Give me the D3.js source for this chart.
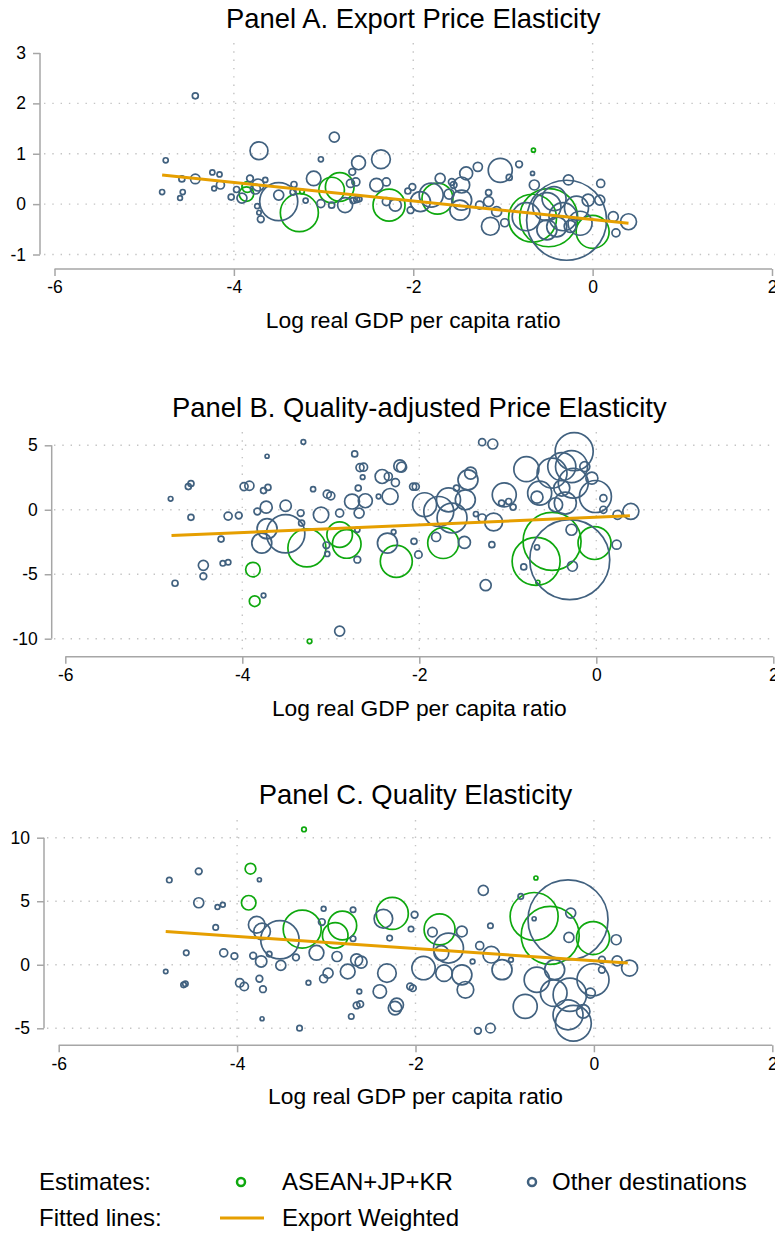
<!DOCTYPE html>
<html>
<head>
<meta charset="utf-8">
<script src="https://cdn.jsdelivr.net/npm/d3@7"></script>
<style>
  body { margin: 0; background: #fff; }
  text { font-family: Arial, "Liberation Sans", sans-serif; fill: #000; }
</style>
</head>
<body>
<div id="chart"></div>
<script>
// Estimates: [log real GDP per capita ratio, elasticity, export weight]
const greenA = [
  [-3.86, 0.20, 3.3], [-3.85, 0.34, 1.8], [-3.27, -0.17, 22.6], [-3.24, 0.25, 0.33],
  [-2.91, 0.28, 10.2], [-2.82, 0.34, 12.8], [-2.27, -0.02, 16], [-1.73, 0.11, 15],
  [-0.67, -0.28, 36], [-0.66, 1.07, 0.25], [-0.49, -0.27, 52.6], [0.0, -0.55, 17]
];
const greenB = [
  [-3.88, -4.64, 3.3], [-3.86, -7.09, 1.8], [-3.27, -2.96, 22.6], [-3.24, -10.2, 0.33],
  [-2.90, -1.93, 10.2], [-2.82, -2.65, 12.8], [-2.26, -4.0, 16], [-1.73, -2.58, 15],
  [-0.68, -4.0, 36], [-0.66, -5.62, 0.25], [-0.50, -2.45, 52.6], [-0.02, -2.58, 17]
];
const greenC = [
  [-3.87, 4.88, 3.3], [-3.85, 7.56, 1.8], [-3.27, 2.81, 22.6], [-3.25, 10.65, 0.33],
  [-2.90, 2.31, 10.2], [-2.82, 3.09, 12.8], [-2.26, 4.04, 16], [-1.73, 2.78, 15],
  [-0.67, 3.80, 36], [-0.65, 6.83, 0.25], [-0.49, 2.31, 52.6], [-0.01, 2.1, 17]
];

const blueA = [
  [-4.80, 0.24, 0.4], [-4.76, 0.87, 0.4], [-4.43, 2.15, 0.56], [-4.58, 0.50, 0.56],
  [-4.43, 0.50, 1.4], [-4.57, 0.24, 0.4], [-4.60, 0.12, 0.35], [-4.24, 0.63, 0.4],
  [-4.16, 0.59, 0.4], [-4.22, 0.31, 0.35], [-4.15, 0.38, 1.0], [-4.03, 0.14, 0.56],
  [-3.97, 0.29, 0.56], [-3.91, 0.12, 1.56], [-3.82, 0.51, 0.7], [-3.73, 0.38, 2.25],
  [-3.76, 0.30, 1.56], [-3.65, 0.48, 0.4], [-3.72, 1.06, 5], [-3.74, -0.04, 0.4],
  [-3.70, -0.30, 0.7], [-3.72, -0.17, 0.3], [-3.50, 0.05, 22.6], [-3.50, 0.18, 1.56],
  [-3.33, 0.39, 0.56], [-3.34, 0.24, 0.56], [-3.20, 0.07, 0.4], [-3.03, 0.89, 0.4],
  [-3.11, 0.51, 3.3], [-3.03, 0.01, 1.0], [-2.88, 1.33, 1.56], [-2.91, -0.02, 0.56],
  [-2.76, -0.02, 3.5], [-2.61, 0.82, 3], [-2.68, 0.64, 0.7], [-2.70, 0.41, 1.0],
  [-2.64, 0.44, 1.0], [-2.67, 0.07, 0.56], [-2.63, 0.09, 0.56], [-2.60, 0.10, 0.4],
  [-2.36, 0.89, 5.5], [-2.41, 0.38, 2.8], [-2.30, 0.44, 1.0], [-2.20, -0.02, 2.25],
  [-2.30, 0.05, 1.0], [-2.06, 0.26, 0.56], [-2.01, 0.34, 0.7], [-2.03, -0.12, 0.7],
  [-1.92, 0.05, 6.25], [-1.80, 0.18, 9], [-1.70, 0.51, 1.56], [-1.57, 0.44, 0.7],
  [-1.55, 0.38, 0.7], [-1.46, 0.38, 4], [-1.41, 0.61, 2.6], [-1.28, 0.74, 1.3],
  [-1.48, -0.12, 6.25], [-1.46, 0.08, 6.25], [-1.60, 0.20, 1.56], [-1.26, -0.02, 1.0],
  [-1.16, 0.23, 0.56], [-1.16, 0.05, 1.56], [-1.07, -0.15, 1.56], [-1.14, -0.44, 5],
  [-1.03, 0.67, 9], [-0.93, 0.53, 0.56], [-0.98, -0.37, 1.0], [-0.82, 0.79, 0.7],
  [-0.67, 0.61, 0.25], [-0.65, 0.38, 1.56], [-0.74, -0.25, 12.3], [-0.51, -0.05, 12.3],
  [-0.40, -0.45, 6.25], [-0.51, -0.51, 6.25], [-0.43, 0.11, 9], [-0.33, -0.25, 12.3],
  [-0.29, -0.32, 100], [-0.27, 0.48, 1.56], [-0.25, -0.44, 2.25], [-0.18, -0.08, 9],
  [-0.14, -0.38, 9], [-0.05, 0.08, 2.25], [0.09, 0.41, 1.0], [0.08, 0.08, 1.56],
  [0.23, -0.25, 1.56], [0.26, -0.57, 1.0], [0.40, -0.35, 4]
];

const blueB = [
  [-4.81, 0.85, 0.33], [-4.76, -5.70, 0.56], [-4.61, 1.8, 0.56], [-4.58, 2.03, 0.56],
  [-4.58, -0.59, 0.56], [-4.44, -4.31, 1.56], [-4.44, -5.16, 0.7], [-4.24, -2.27, 0.56],
  [-4.22, -4.15, 0.46], [-4.16, -4.07, 0.46], [-4.16, -0.49, 1.0], [-4.04, -0.44, 0.7],
  [-3.98, 1.8, 1.0], [-3.92, 1.86, 1.3], [-3.72, 4.15, 0.25], [-3.76, 1.49, 0.56],
  [-3.71, 1.73, 0.56], [-3.73, 0.2, 2.25], [-3.83, -0.13, 0.7], [-3.76, -6.65, 0.33],
  [-3.72, -1.47, 6.25], [-3.78, -2.58, 6.25], [-3.51, -1.86, 23], [-3.51, 0.31, 2.0],
  [-3.31, 5.26, 0.33], [-3.34, -0.26, 0.7], [-3.33, -1.03, 0.56], [-3.20, 1.6, 0.4],
  [-3.11, -0.39, 3.7], [-3.04, 1.21, 1.0], [-3.0, 1.08, 1.0], [-3.05, -2.76, 0.7],
  [-3.04, -3.43, 0.4], [-2.90, -9.41, 1.56], [-2.90, -0.26, 1.0], [-2.76, 0.64, 3.5],
  [-2.73, 4.33, 0.56], [-2.67, 3.27, 1.0], [-2.63, 3.3, 1.0], [-2.64, 2.53, 0.33],
  [-2.69, 1.68, 0.56], [-2.61, 0.7, 3.06], [-2.68, -0.26, 1.56], [-2.70, -1.55, 0.4],
  [-2.70, -3.87, 0.7], [-2.42, 2.58, 3.06], [-2.46, 1.03, 0.33], [-2.36, -2.58, 6.25],
  [-2.22, 3.4, 2.25], [-2.20, 3.3, 1.56], [-2.35, 2.58, 1.0], [-2.27, 2.11, 1.0],
  [-2.33, 1.03, 4], [-2.29, -1.72, 0.33], [-2.06, -2.45, 0.56], [-2.01, -3.48, 0.85],
  [-2.07, 1.8, 0.77], [-2.04, 1.8, 0.77], [-1.94, 0.39, 9], [-1.78, -0.13, 14],
  [-1.67, 0.77, 9], [-1.63, -0.64, 14], [-1.81, -2.11, 1.27], [-1.49, -2.53, 2.25],
  [-1.58, 1.68, 0.56], [-1.48, 0.77, 6.25], [-1.45, 2.32, 6.25], [-1.42, 2.84, 2.25],
  [-1.36, -0.33, 0.4], [-1.29, -0.64, 1.0], [-1.29, 5.24, 0.77], [-1.17, 5.1, 1.56],
  [-1.18, -2.71, 0.56], [-1.25, -5.85, 1.9], [-1.16, -0.95, 5], [-1.04, 1.16, 9],
  [-1.07, 0.52, 0.56], [-0.99, 0.64, 0.56], [-0.94, 0.21, 0.56], [-0.79, 3.15, 9.8],
  [-0.67, 0.98, 2.25], [-0.64, 1.29, 9], [-0.50, 2.84, 14], [-0.39, 3.35, 12.3],
  [-0.25, 4.51, 22.6], [-0.28, 3.35, 16], [-0.26, 2.06, 14], [-0.39, 1.68, 4],
  [-0.35, 0.52, 7.6], [-0.46, 0.39, 3.06], [-0.13, 3.35, 1.56], [-0.05, 2.45, 2.25],
  [-0.01, 1.03, 16], [0.08, 0.9, 0.77], [0.08, 0.0, 0.77], [0.24, -0.39, 1.27],
  [0.39, -0.13, 4], [0.23, -2.71, 1.27], [-0.28, -1.55, 1.9], [-0.27, -4.38, 1.56],
  [-0.82, -4.43, 0.56], [-0.67, -2.91, 0.4], [-0.30, -3.87, 100]
];

const blueC = [
  [-4.76, 6.67, 0.46], [-4.80, -0.53, 0.3], [-4.43, 7.35, 0.7], [-4.43, 4.88, 1.56],
  [-4.57, 0.94, 0.46], [-4.60, -1.58, 0.46], [-4.58, -1.5, 0.46], [-4.22, 4.54, 0.35],
  [-4.16, 4.72, 0.35], [-4.24, 2.94, 0.46], [-4.15, 0.94, 1.0], [-4.03, 0.68, 0.7],
  [-3.75, 6.69, 0.25], [-3.78, 3.15, 4.3], [-3.72, 2.62, 4.3], [-3.82, 0.71, 0.7],
  [-3.73, 0.26, 2.0], [-3.97, -1.42, 1.1], [-3.92, -1.71, 1.1], [-3.75, -1.1, 0.7],
  [-3.71, -1.92, 0.7], [-3.72, -4.25, 0.25], [-3.52, 1.97, 23], [-3.51, -0.05, 1.56],
  [-3.64, 0.84, 0.46], [-3.34, 0.58, 0.7], [-3.30, -4.99, 0.46], [-3.20, -1.42, 0.35],
  [-3.11, 0.94, 3.4], [-3.03, 4.41, 0.35], [-3.05, 3.36, 0.7], [-2.98, -0.66, 1.56],
  [-3.03, -1.1, 1.0], [-2.88, 0.65, 1.56], [-2.70, 4.33, 0.46], [-2.70, 2.05, 0.46],
  [-2.76, -0.53, 3.4], [-2.66, 0.39, 2.25], [-2.61, 0.21, 2.25], [-2.63, -2.1, 0.35],
  [-2.66, -3.2, 0.7], [-2.62, -3.1, 0.7], [-2.72, -4.07, 0.46], [-2.36, 3.62, 5.4],
  [-2.29, 2.1, 0.46], [-2.32, -0.66, 5.4], [-2.40, -2.1, 2.8], [-2.21, -3.15, 2.8],
  [-2.23, -3.41, 2.8], [-2.01, 3.94, 0.7], [-2.05, 2.81, 0.46], [-2.06, -1.71, 0.7],
  [-2.03, -1.84, 0.7], [-1.91, -0.26, 8.5], [-1.81, 2.57, 1.4], [-1.71, 0.92, 3.4],
  [-1.63, 1.31, 14], [-1.68, -0.66, 4.3], [-1.48, 2.62, 1.8], [-1.48, -0.79, 6.25],
  [-1.44, -1.97, 4.3], [-1.36, 0.26, 0.35], [-1.24, 5.85, 1.56], [-1.16, 3.07, 0.46],
  [-1.28, 1.5, 1.0], [-1.15, 0.79, 4.3], [-1.03, -0.39, 6.25], [-0.93, 0.39, 0.35],
  [-1.30, -5.2, 0.7], [-1.16, -4.99, 1.4], [-0.82, 5.38, 0.46], [-0.77, -3.28, 9],
  [-0.64, -1.18, 10], [-0.67, 3.62, 0.25], [-0.44, -0.39, 6.25], [-0.45, -2.23, 11],
  [-0.27, -2.36, 17.4], [-0.29, -3.94, 14], [-0.23, -4.6, 20], [-0.29, 3.54, 100],
  [-0.26, 4.07, 1.56], [-0.28, 2.15, 1.56], [-0.01, -1.18, 16], [-0.04, -2.23, 1.56],
  [-0.12, -3.67, 2.8], [0.09, 0.39, 0.7], [0.09, -0.39, 0.7], [0.25, 1.97, 1.56],
  [0.26, 0.31, 1.56], [0.40, -0.26, 4]
];

// Export-weighted fitted lines: [x, y] end points
const fitA = [[-4.8, 0.58], [0.4, -0.38]];
const fitB = [[-4.8, -2.0], [0.38, -0.46]];
const fitC = [[-4.8, 2.62], [0.38, 0.13]];

const xTicks = [-6, -4, -2, 0, 2];
const xGrid = [-4, -2, 0];
const xLabel = "Log real GDP per capita ratio";

const width = 775;
const height = 1234;
const colGreen = "#0ea80e";
const colBlue = "#41617f";
const colOrange = "#e69f00";
const axisColor = "#a6a6a6";
const gridColor = "#c4c4c4";

const svg = d3.select("#chart")
  .append("svg")
  .attr("width", width)
  .attr("height", height)
  .attr("viewBox", [0, 0, width, height]);

// circle radius scale (shared by all panels)
const r = d3.scaleSqrt().domain([0, 100]).range([0, 40]);

const panels = [
  {
    title: "Panel A. Export Price Elasticity",
    green: greenA, blue: blueA, fit: fitA,
    yDomain: [-1, 3], yTicks: [-1, 0, 1, 2, 3], yGrid: [-1, 0, 1, 2],
    xRange: [54.5, 772], yRange: [254.5, 53],
    yAxisX: 40, xAxisY: 269, plotTop: 43, plotBottom: 263, gridLeft: 44,
    titleY: 18
  },
  {
    title: "Panel B. Quality-adjusted Price Elasticity",
    green: greenB, blue: blueB, fit: fitB,
    yDomain: [-10, 5], yTicks: [-10, -5, 0, 5], yGrid: [-10, -5, 0, 5],
    xRange: [65.3, 773.3], yRange: [638.7, 445.3],
    yAxisX: 51.7, xAxisY: 656.7, plotTop: 432, plotBottom: 651, gridLeft: 54,
    titleY: 407
  },
  {
    title: "Panel C. Quality Elasticity",
    green: greenC, blue: blueC, fit: fitC,
    yDomain: [-5, 10], yTicks: [-5, 0, 5, 10], yGrid: [-5, 0, 5, 10],
    xRange: [58.7, 772.3], yRange: [1028.3, 837.7],
    yAxisX: 44, xAxisY: 1045.3, plotTop: 820, plotBottom: 1040, gridLeft: 47,
    titleY: 794
  }
];

panels.forEach(p => {
  const x = d3.scaleLinear().domain([-6, 2]).range(p.xRange);
  const y = d3.scaleLinear().domain(p.yDomain).range(p.yRange);
  const g = svg.append("g");

  // dotted gridlines
  g.append("g").selectAll("line")
    .data(p.yGrid)
    .join("line")
    .attr("x1", p.gridLeft).attr("x2", width)
    .attr("y1", d => y(d)).attr("y2", d => y(d))
    .attr("stroke", gridColor).attr("stroke-width", 1.4)
    .attr("stroke-dasharray", "1.4,6.9");

  g.append("g").selectAll("line")
    .data(xGrid)
    .join("line")
    .attr("x1", d => x(d)).attr("x2", d => x(d))
    .attr("y1", p.plotTop).attr("y2", p.plotBottom)
    .attr("stroke", gridColor).attr("stroke-width", 1.4)
    .attr("stroke-dasharray", "1.4,6.9");

  // axes
  const yAxis = g.append("g")
    .attr("transform", `translate(${p.yAxisX},0)`)
    .call(d3.axisLeft(y).tickValues(p.yTicks).tickSize(7).tickPadding(7)
      .tickFormat(d3.format("d")));
  const xAxis = g.append("g")
    .attr("transform", `translate(0,${p.xAxisY})`)
    .call(d3.axisBottom(x).tickValues(xTicks).tickSize(7).tickPadding(5)
      .tickFormat(d3.format("d")));

  [xAxis, yAxis].forEach(a => {
    a.select(".domain").attr("stroke", axisColor).attr("stroke-width", 1.5);
    a.selectAll(".tick line").attr("stroke", axisColor).attr("stroke-width", 1.5);
    a.selectAll(".tick text")
      .style("font-size", "17.5px")
      .style("font-family", "Arial, 'Liberation Sans', sans-serif")
      .attr("fill", "#000")
      .text(d => d < 0 ? "-" + Math.abs(d) : d);
  });
  // axis lines only span the tick range (no outer ticks)
  yAxis.select(".domain").attr("d", `M0,${y(p.yDomain[0])}V${y(p.yDomain[1])}`);
  xAxis.select(".domain").attr("d", `M${x(-6)},0H${x(2)}`);

  // markers: ASEAN+JP+KR first, other destinations on top
  g.append("g").selectAll("circle")
    .data(p.green)
    .join("circle")
    .attr("cx", d => x(d[0])).attr("cy", d => y(d[1]))
    .attr("r", d => Math.max(r(d[2]), 2))
    .attr("fill", "none").attr("stroke", colGreen).attr("stroke-width", 1.7);

  g.append("g").selectAll("circle")
    .data(p.blue)
    .join("circle")
    .attr("cx", d => x(d[0])).attr("cy", d => y(d[1]))
    .attr("r", d => Math.max(r(d[2]), 2))
    .attr("fill", "none").attr("stroke", colBlue).attr("stroke-width", 1.7);

  // fitted line
  g.append("path")
    .datum(p.fit)
    .attr("d", d3.line().x(d => x(d[0])).y(d => y(d[1])))
    .attr("stroke", colOrange).attr("stroke-width", 3).attr("fill", "none");

  // title and x label
  const cx = (p.xRange[0] + p.xRange[1]) / 2;
  g.append("text")
    .attr("x", cx).attr("y", p.titleY)
    .attr("dy", "0.35em")
    .attr("text-anchor", "middle")
    .style("font-size", "27.4px")
    .text(p.title);

  g.append("text")
    .attr("x", cx).attr("y", p.xAxisY + 51)
    .attr("dy", "0.35em")
    .attr("text-anchor", "middle")
    .style("font-size", "22.8px")
    .text(xLabel);
});

// legend
const legend = svg.append("g").style("font-size", "24px");
const row1 = 1182, row2 = 1218;

legend.append("text").attr("x", 39).attr("y", row1).attr("dy", "0.35em").text("Estimates:");
legend.append("circle").attr("cx", 241).attr("cy", row1)
  .attr("r", 4).attr("fill", "none").attr("stroke", colGreen).attr("stroke-width", 2.5);
legend.append("text").attr("x", 282).attr("y", row1).attr("dy", "0.35em").text("ASEAN+JP+KR");
legend.append("circle").attr("cx", 532).attr("cy", row1)
  .attr("r", 4).attr("fill", "none").attr("stroke", colBlue).attr("stroke-width", 2.5);
legend.append("text").attr("x", 552).attr("y", row1).attr("dy", "0.35em").text("Other destinations");

legend.append("text").attr("x", 39).attr("y", row2).attr("dy", "0.35em").text("Fitted lines:");
legend.append("line").attr("x1", 220).attr("x2", 264).attr("y1", row2).attr("y2", row2)
  .attr("stroke", colOrange).attr("stroke-width", 3);
legend.append("text").attr("x", 282).attr("y", row2).attr("dy", "0.35em").text("Export Weighted");
</script>
</body>
</html>
